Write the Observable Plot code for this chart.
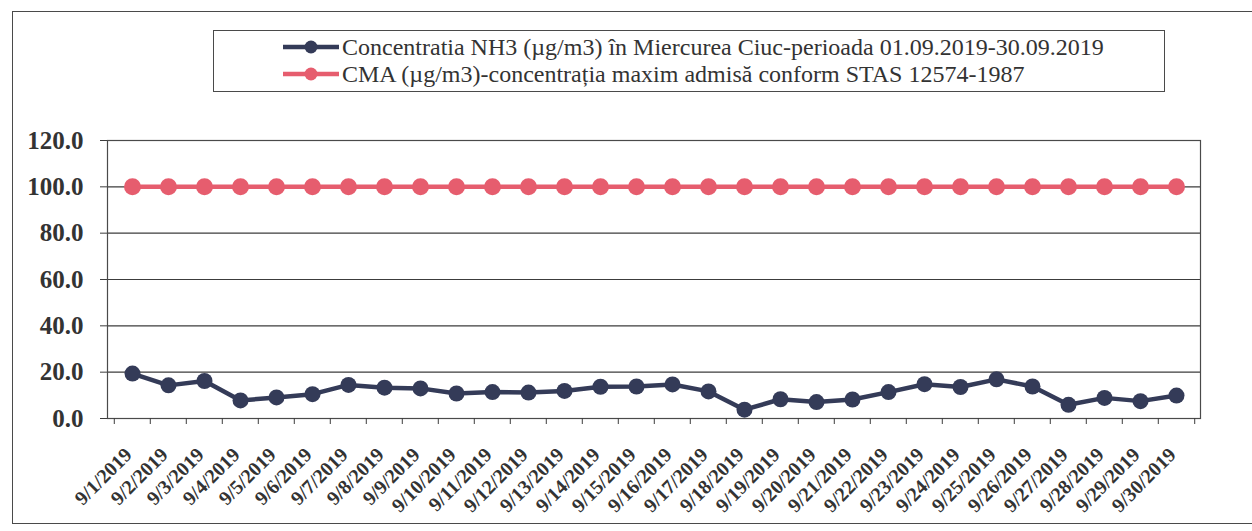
<!DOCTYPE html>
<html>
<head>
<meta charset="utf-8">
<script src="https://cdn.jsdelivr.net/npm/d3@7"></script>
<script src="https://cdn.jsdelivr.net/npm/@observablehq/plot@0.6"></script>
<style>
  html, body { margin: 0; padding: 0; background: #fff; }
  #wrap { position: relative; width: 1252px; height: 531px; overflow: hidden; background: #fff; }
  #frame { position: absolute; left: 12px; top: 11px; width: 1250px; height: 513px; border: 1.5px solid #4a4a4a; box-sizing: border-box; }
  #chart { position: absolute; left: 0; top: 0; }
  #chart svg, #chart svg text { font-family: "Liberation Serif", "Times New Roman", serif !important; }
  #legend { position: absolute; left: 213px; top: 30px; width: 952px; height: 62px; border: 1.5px solid #4a4a4a; box-sizing: border-box; background: #fff;
            font-family: "Liberation Serif", "Times New Roman", serif; font-size: 24px; color: #333; }
  .row { position: absolute; left: 0; height: 28px; display: flex; align-items: center; white-space: nowrap; }
  .row svg { margin-left: 68px; margin-right: 2px; }
</style>
</head>
<body>
<div id="wrap">
  <div id="frame"></div>
  <div id="chart"></div>
  <div id="legend"></div>
</div>
<script>
const dates = ["9/1/2019","9/2/2019","9/3/2019","9/4/2019","9/5/2019","9/6/2019","9/7/2019","9/8/2019","9/9/2019","9/10/2019",
  "9/11/2019","9/12/2019","9/13/2019","9/14/2019","9/15/2019","9/16/2019","9/17/2019","9/18/2019","9/19/2019","9/20/2019",
  "9/21/2019","9/22/2019","9/23/2019","9/24/2019","9/25/2019","9/26/2019","9/27/2019","9/28/2019","9/29/2019","9/30/2019"];
const nh3 = [19.4,14.3,16.2,7.8,9.1,10.5,14.5,13.3,13.0,10.8,11.4,11.2,11.9,13.7,13.8,14.7,11.7,3.8,8.3,7.1,8.2,11.4,14.8,13.6,16.9,13.8,5.9,8.9,7.5,9.9];
const cma = [100,100,100,100,100,100,100,100,100,100,100,100,100,100,100,100,100,100,100,100,100,100,100,100,100,100,100,100,100,100];
const yTicks = [0,20,40,60,80,100,120];
const seriesNames = [
  "Concentratia NH3 (\u00b5g/m3) \u00een Miercurea Ciuc-perioada 01.09.2019-30.09.2019",
  "CMA (\u00b5g/m3)-concentra\u021bia maxim admis\u0103 conform STAS 12574-1987"
];
const navy = "#343b58";
const red = "#e65d6e";
const serif = "'Liberation Serif', 'Times New Roman', serif";

const rows = dates.map((d, i) => ({date: d, nh3: nh3[i], cma: cma[i]}));

const W = 1252, H = 531, mL = 107, mR = 52, mT = 140, mB = 113;
const bw = (W - mL - mR) / dates.length;

const chart = Plot.plot({
  width: W, height: H,
  marginLeft: mL, marginRight: mR, marginTop: mT, marginBottom: mB,
  style: {fontFamily: serif, background: "transparent", color: "#333"},
  x: {type: "band", domain: dates, padding: 0, label: null},
  y: {domain: [0, 120], label: null},
  marks: [
    Plot.gridY(yTicks, {stroke: "#3c3c3c", strokeOpacity: 1, strokeWidth: 1.2}),
    Plot.frame({stroke: "#4a4a4a", strokeWidth: 1.2}),
    Plot.axisY({ticks: yTicks, tickFormat: d => d.toFixed(1), tickSize: 7, tickPadding: 17, fontSize: 25, fontWeight: "bold", fontFamily: serif, fill: "#333", stroke: "#3c3c3c"}),
    Plot.axisX({tickSize: 0, tickRotate: -45, tickPadding: 33, dx: -4, fontSize: 20, fontWeight: "bold", fontFamily: serif, fill: "#333"}),
    Plot.axisX({tickSize: 6, tickFormat: () => "", dx: -bw / 2, stroke: "#3c3c3c"}),
    Plot.axisX({ticks: [dates[dates.length - 1]], tickSize: 6, tickFormat: () => "", dx: bw / 2, stroke: "#3c3c3c"}),
    Plot.line(rows, {x: "date", y: "cma", stroke: red, strokeWidth: 4.5}),
    Plot.dot(rows, {x: "date", y: "cma", r: 8.5, fill: red}),
    Plot.line(rows, {x: "date", y: "nh3", stroke: navy, strokeWidth: 4.5}),
    Plot.dot(rows, {x: "date", y: "nh3", r: 8, fill: navy})
  ]
});
document.getElementById("chart").appendChild(chart);

const legend = document.getElementById("legend");
[navy, red].forEach((c, i) => {
  const row = document.createElement("div");
  row.className = "row";
  row.style.top = (i === 0 ? 2 : 29) + "px";
  row.innerHTML = `<svg width="58" height="20"><line x1="1" x2="57" y1="10" y2="10" stroke="${c}" stroke-width="4.5"/><circle cx="29" cy="10" r="6.5" fill="${c}"/></svg><span>${seriesNames[i]}</span>`;
  legend.appendChild(row);
});
</script>
</body>
</html>
